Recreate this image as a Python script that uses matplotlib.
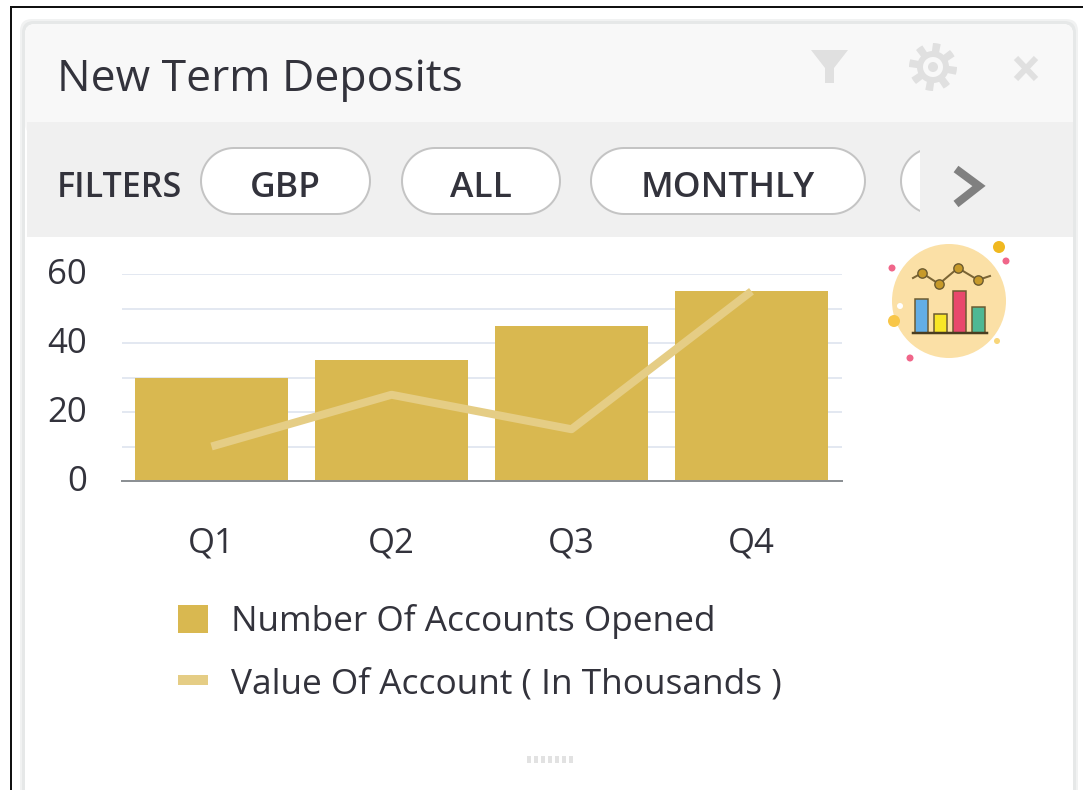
import numpy as np
import matplotlib
matplotlib.use("Agg")
import matplotlib.pyplot as plt
from matplotlib.lines import Line2D
from matplotlib.patches import Circle, FancyBboxPatch, Polygon, Rectangle
from matplotlib.transforms import ScaledTranslation

W, H = 1083, 790
px = 72 / 100  # one pixel in points

quarters = ["Q1", "Q2", "Q3", "Q4"]
accounts_opened = [30, 35, 45, 55]
account_value = [10, 25, 15, 55]
y_ticks = [0, 20, 40, 60]
y_minor = [10, 30, 50]
filter_labels = ["GBP", "ALL", "MONTHLY"]

BAR = "#d9b850"
LINE = "#e5cd85"
TEXT = "#33333c"
GRID = "#e3e8f1"

plt.rcParams["font.family"] = ["Open Sans", "DejaVu Sans"]

fig = plt.figure(figsize=(W / 100, H / 100), dpi=100, facecolor="white")


def pill_points(x0, x1, y0, y1):
    r = (y1 - y0) / 2
    t = np.linspace(-np.pi / 2, np.pi / 2, 40)
    right = np.c_[x1 - r + r * np.cos(t), (y0 + y1) / 2 + r * np.sin(t)]
    left = np.c_[x0 + r - r * np.cos(t[::-1]), (y0 + y1) / 2 + r * np.sin(t[::-1])]
    return np.vstack([right, left])


"""Card background, in pixels"""
bg = fig.add_axes([0, 0, 1, 1])
bg.set_xlim(0, W)
bg.set_ylim(H, 0)
bg.axis("off")

bg.plot([10.5, 10.5, W], [H, 6.5, 6.5], color="#111111", lw=2 * px, solid_joinstyle="miter")
bg.add_patch(FancyBboxPatch((20, 19), 1058, 800, boxstyle="round,pad=0,rounding_size=12",
                            fc="#f1f2f2", ec="none"))
bg.add_patch(FancyBboxPatch((22, 21), 1054, 800, boxstyle="round,pad=0,rounding_size=12",
                            fc="#e6e8e8", ec="none"))
bg.add_patch(FancyBboxPatch((25, 24), 1048, 800, boxstyle="round,pad=0,rounding_size=10",
                            fc="white", ec="none"))
bg.add_patch(FancyBboxPatch((25, 24), 1048, 110, boxstyle="round,pad=0,rounding_size=10",
                            fc="#f8f8f8", ec="none"))
bg.add_patch(Rectangle((27, 122), 1046, 115, fc="#f0f0f0", ec="none"))

bg.text(57, 80, "New Term Deposits", fontsize=32, color=TEXT, va="center", ha="left")
bg.text(57, 188, "FILTERS", fontsize=24.5, color=TEXT, va="center", ha="left", fontweight="semibold")

"""Filter pills"""
pills = [(201, 370), (402, 560), (591, 865)]
for (x0, x1), label in zip(pills, filter_labels):
    bg.add_patch(Polygon(pill_points(x0, x1, 148, 214), fc="white", ec="#c4c4c4", lw=2 * px))
    bg.text((x0 + x1) / 2, 188, label, fontsize=25.5, color=TEXT, va="center", ha="center", fontweight="semibold")
cut = Rectangle((898, 140), 22, 80, transform=bg.transData)
part = Polygon(pill_points(901, 1061, 148, 214), fc="white", ec="#c4c4c4", lw=2 * px)
bg.add_patch(part)
part.set_clip_path(cut)
bg.plot([956, 979, 956], [169, 186, 204], color="#808080", lw=8 * px, solid_joinstyle="miter",
        solid_capstyle="butt")

"""Header icons"""
icon = "#e0e0e0"
bg.add_patch(Polygon([(811, 50), (848, 50), (834, 68), (834, 83), (825, 83), (825, 68)], fc=icon, ec="none"))
ang = np.linspace(0, 2 * np.pi, 96, endpoint=False)
gear_r = 20 + 4 * np.sign(np.sin(8 * ang + 0.4))
bg.add_patch(Polygon(np.c_[933 + gear_r * np.cos(ang), 67 + gear_r * np.sin(ang)], fc=icon, ec="none"))
bg.add_patch(Circle((933, 67), 10, fc="#f8f8f8", ec="none"))
bg.add_patch(Circle((933, 67), 5, fc=icon, ec="none"))
bg.plot([1016, 1036], [58, 79], color=icon, lw=6 * px, solid_capstyle="butt")
bg.plot([1036, 1016], [58, 79], color=icon, lw=6 * px, solid_capstyle="butt")

"""Small chart badge"""
bg.add_patch(Circle((949, 301), 57, fc="#fbe0a6", ec="none"))
badge_bars = [(915, 299, "#62aee6"), (934, 314, "#f8e626"), (953, 291, "#e8486c"), (972, 307, "#4fb894")]
for x0, top, col in badge_bars:
    bg.add_patch(Rectangle((x0, top), 13, 333 - top, fc=col, ec="#6b5a30", lw=1.5 * px))
bg.plot([913, 987], [333, 333], color="#4a3d20", lw=2.5 * px)
bg.plot([913, 922, 939, 958, 978, 990], [278, 273, 284, 268, 280, 276], color="#7a6434", lw=2 * px)
bg.scatter([922, 939, 958, 978], [273, 284, 268, 280], s=45, color="#c79a2a", ec="#6b5a30", lw=1, zorder=3)
for x, y, r, col in [(999, 247, 6, "#f0b820"), (1006, 261, 3.5, "#f0668a"), (892, 268, 3.5, "#f0668a"),
                     (910, 358, 3.5, "#f0668a"), (894, 321, 6, "#f8c648"), (900, 306, 3, "white"),
                     (997, 341, 3, "#f8d67a")]:
    bg.add_patch(Circle((x, y), r, fc=col, ec="none"))

for i in range(7):
    bg.add_patch(Rectangle((527 + i * 7, 756), 4, 7, fc="#e2e2e2", ec="none"))

"""Chart"""
ax = fig.add_axes([121.5 / W, 1 - 481 / H, 720 / W, 207 / H], facecolor="none")
x = np.arange(len(quarters))
bars = ax.bar(x, accounts_opened, width=0.845, color=BAR, zorder=2)
ax.plot(x, account_value, color=LINE, lw=8 * px, zorder=3, solid_capstyle="butt")
ax.set_xlim(-0.5, 3.5)
ax.set_ylim(0, 60)
ax.set_xticks(x, quarters)
ax.set_yticks(y_ticks)
ax.set_yticks(y_minor, minor=True)
ax.tick_params(axis="both", which="both", length=0)
ax.tick_params(axis="x", labelsize=25, labelcolor=TEXT, pad=33)
ax.tick_params(axis="y", labelsize=25, labelcolor=TEXT, pad=25)
lift = ScaledTranslation(0, 3 / 100, fig.dpi_scale_trans)
for lab in ax.get_yticklabels():
    lab.set_transform(lab.get_transform() + lift)
ax.grid(True, axis="y", which="both", color=GRID, lw=2 * px, zorder=0)
ax.set_axisbelow(True)
for s in ["top", "left", "right"]:
    ax.spines[s].set_visible(False)
ax.spines["bottom"].set_color("#8c9094")
ax.spines["bottom"].set_linewidth(2 * px)

line_handle = Line2D([], [], color=LINE, lw=10 * px, solid_capstyle="butt")
leg = ax.legend([bars, line_handle], ["Number Of Accounts Opened", "Value Of Account ( In Thousands )"],
                loc="upper left", bbox_to_anchor=(178 / W, 1 - 604 / H), bbox_transform=fig.transFigure,
                frameon=False, fontsize=25.4, labelcolor=TEXT, borderpad=0, borderaxespad=0,
                handlelength=0.85, handleheight=0.85, handletextpad=0.65, labelspacing=0.8)

fig.savefig("out.png", dpi=100)
